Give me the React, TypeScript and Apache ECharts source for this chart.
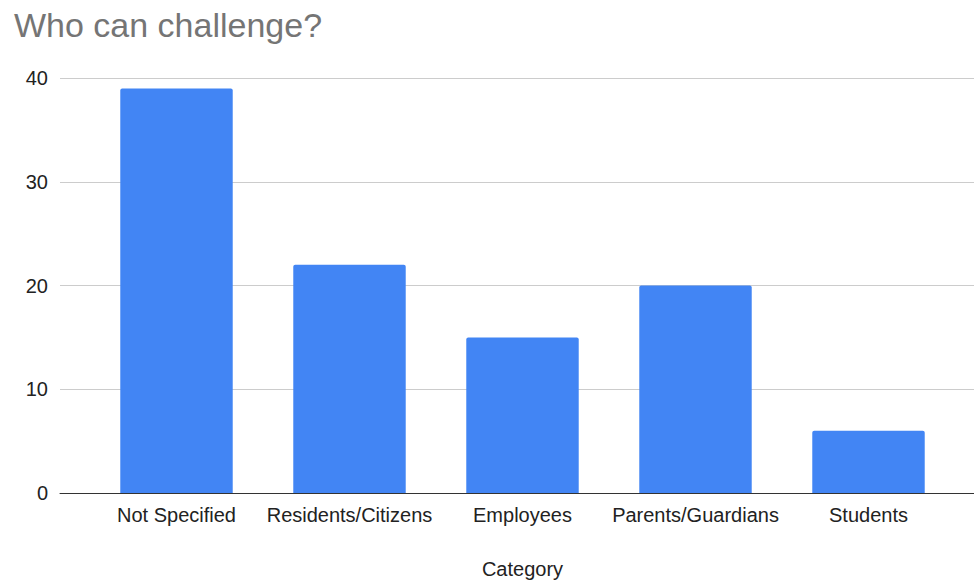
import React, { useEffect, useRef } from "react";
import * as echarts from "echarts";

const categories = ["Not Specified", "Residents/Citizens", "Employees", "Parents/Guardians", "Students"];
const values = [39, 22, 15, 20, 6];
const yTicks = { min: 0, max: 40, interval: 10 };
const titleText = "Who can challenge?";
const xAxisName = "Category";

export default function App() {
  const ref = useRef<HTMLDivElement>(null);
  useEffect(() => {
    if (!ref.current) return;
    const chart = echarts.init(ref.current, null, { renderer: "svg" });
    const font = "'Liberation Sans', Arial, sans-serif";
    chart.setOption({
      animation: false,
      backgroundColor: "#ffffff",
      title: {
        text: titleText,
        left: 9,
        top: 3,
        textStyle: { fontFamily: font, fontSize: 34, fontWeight: "normal", color: "#757575" },
      },
      grid: [
        { left: 60, right: 0, top: 78, bottom: 88, outerBoundsMode: "none", containLabel: false },
        { left: 90, right: 19, top: 78, bottom: 88, outerBoundsMode: "none", containLabel: false },
      ],
      xAxis: [
        {
          type: "value",
          gridIndex: 0,
          min: 0,
          max: 1,
          axisLine: { show: true, onZero: false, lineStyle: { color: "#333333", width: 1 } },
          axisTick: { show: false },
          axisLabel: { show: false },
          splitLine: { show: false },
        },
        {
          type: "category",
          gridIndex: 1,
          data: categories,
          axisLine: { show: false },
          axisTick: { show: false },
          axisLabel: { fontFamily: font, fontSize: 20, color: "#222222", margin: 12, interval: 0 },
          name: xAxisName,
          nameLocation: "middle",
          nameGap: 66,
          nameTextStyle: { fontFamily: font, fontSize: 20, lineHeight: 20, color: "#222222" },
        },
      ],
      yAxis: [
        {
          type: "value",
          gridIndex: 0,
          min: yTicks.min,
          max: yTicks.max,
          interval: yTicks.interval,
          axisLine: { show: false },
          axisTick: { show: false },
          axisLabel: { fontFamily: font, fontSize: 20, color: "#222222", margin: 12 },
          splitLine: { show: true, lineStyle: { color: "#cccccc", width: 1 } },
        },
        {
          type: "value",
          gridIndex: 1,
          min: yTicks.min,
          max: yTicks.max,
          interval: yTicks.interval,
          show: false,
          splitLine: { show: false },
        },
      ],
      series: [
        {
          type: "bar",
          xAxisIndex: 1,
          yAxisIndex: 1,
          data: values,
          barCategoryGap: "35%",
          itemStyle: { color: "#4285F4", borderRadius: [2, 2, 0, 0] },
        },
      ],
    });
    return () => chart.dispose();
  }, []);
  return (
    <div
      ref={ref}
      style={{ position: "fixed", left: 0, top: 0, width: 974, height: 581 }}
    />
  );
}
